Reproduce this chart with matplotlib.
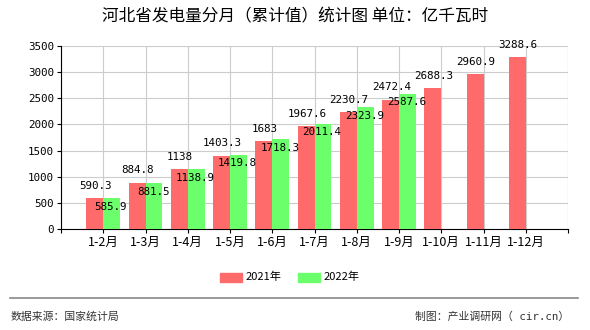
import matplotlib
matplotlib.use("Agg")
import matplotlib.pyplot as plt
from matplotlib.patches import Rectangle
import numpy as np

plt.rcParams['font.family'] = ['Noto Sans CJK SC', 'DejaVu Sans']

categories = ["1-2月", "1-3月", "1-4月", "1-5月", "1-6月", "1-7月", "1-8月",
              "1-9月", "1-10月", "1-11月", "1-12月"]
values_2021 = [590.3, 884.8, 1138, 1403.3, 1683, 1967.6, 2230.7, 2472.4,
               2688.3, 2960.9, 3288.6]
labels_2021 = ["590.3", "884.8", "1138", "1403.3", "1683", "1967.6", "2230.7",
               "2472.4", "2688.3", "2960.9", "3288.6"]
values_2022 = [585.9, 881.5, 1138.9, 1419.8, 1718.3, 2011.4, 2323.9, 2587.6]
labels_2022 = ["585.9", "881.5", "1138.9", "1419.8", "1718.3", "2011.4",
               "2323.9", "2587.6"]
yticks = [0, 500, 1000, 1500, 2000, 2500, 3000, 3500]
series_names = ["2021年", "2022年"]

red = "#FF6B6B"
green = "#6BFF6B"

W, H = 590, 330
fig = plt.figure(figsize=(W / 100, H / 100), dpi=100)
ax = fig.add_axes([61 / W, 1 - 229 / H, (568 - 61) / W, (229 - 46) / H])

x = np.arange(len(categories))
bw = 0.4
ax.bar(x[:len(values_2021)] - bw / 2, values_2021, width=bw, color=red, zorder=3)
x2 = x[:len(values_2022)]
ax.bar(x2 + bw / 2, values_2022, width=bw, color=green, zorder=3)

mono = "DejaVu Sans Mono"
for xi, v, s in zip(x, values_2021, labels_2021):
    ax.text(xi - bw / 2 + 0.02, v + 140, s, ha="center", va="bottom", fontsize=7.8,
            family=mono, zorder=5)
for xi, v, s in zip(x2, values_2022, labels_2022):
    ax.text(xi + bw / 2 - 0.02, v - 70, s, ha="center", va="top", fontsize=7.8,
            family=mono, zorder=5)

ax.set_xlim(-1, len(categories))
ax.set_ylim(0, 3500)
ax.set_yticks(yticks)
ax.set_yticklabels([str(t) for t in yticks], fontsize=7.8, family=mono)
ax.set_xticks(np.arange(-1, len(categories) + 1))
ax.set_xticklabels([""] + categories + [""], fontsize=9)
ax.grid(True, color="#CCCCCC", linewidth=0.8, zorder=0)
for s in ["top", "right"]:
    ax.spines[s].set_visible(False)
ax.spines["left"].set_color("black")
ax.spines["bottom"].set_color("black")
ax.tick_params(axis="both", length=3, width=0.8, pad=2)
ax.axvline(len(categories), color="#CCCCCC", linewidth=0.8, zorder=0)

fig.text(0.5, 1 - 17 / H, "河北省发电量分月（累计值）统计图 单位：亿千瓦时",
         ha="center", va="center", fontsize=12)

# legend
ly = 1 - 277 / H
fig.patches.append(Rectangle((220 / W, 1 - 282 / H), 22 / W, 9 / H,
                             transform=fig.transFigure, color=red))
fig.text(246 / W, ly, series_names[0], ha="left", va="center", fontsize=8)
fig.patches.append(Rectangle((298 / W, 1 - 282 / H), 22 / W, 9 / H,
                             transform=fig.transFigure, color=green))
fig.text(324 / W, ly, series_names[1], ha="left", va="center", fontsize=8)

fig.add_artist(plt.Line2D([10 / W, 578 / W], [1 - 298 / H, 1 - 298 / H],
                          transform=fig.transFigure, color="#888888", linewidth=1.2))
fig.text(11 / W, 1 - 317 / H, "数据来源：国家统计局", ha="left", va="center",
         fontsize=7.8, color="#333333")
fig.text(569 / W, 1 - 317 / H, "制图：产业调研网（ cir.cn）", ha="right", va="center",
         fontsize=7.8, color="#333333", family=[mono, 'Noto Sans CJK SC'])

fig.savefig("out.png", dpi=100)
